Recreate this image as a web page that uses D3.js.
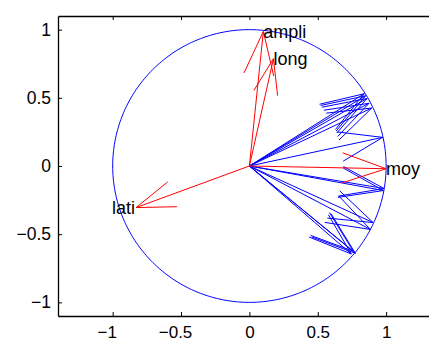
<!DOCTYPE html>
<html>
<head>
<meta charset="utf-8">
<script src="https://cdn.jsdelivr.net/npm/d3@7"></script>
<style>
  body { margin: 0; background: #fff; }
  svg { display: block; }
  text { font-family: "Liberation Sans", Arial, Helvetica, sans-serif; }
</style>
</head>
<body>
<script>
// variable vectors (red) - names and coordinates on the correlation circle
var varNames = ["ampli", "long", "moy", "lati"];
var varX = [0.102, 0.176, 1.0, -0.829];
var varY = [0.987, 0.787, -0.02, -0.305];

// observation vectors (blue)
var obsX = [0.84, 0.85, 0.86, 0.875, 0.895, 0.975, 0.985, 0.98, 0.905, 0.885, 0.775, 0.76, 0.745];
var obsY = [0.53, 0.515, 0.495, 0.46, 0.425, 0.21, -0.165, -0.18, -0.415, -0.465, -0.64, -0.625, -0.645];

// tick values
var xTicks = [-1, -0.5, 0, 0.5, 1];
var yTicks = [-1, -0.5, 0, 0.5, 1];

var width = 429, height = 342;
// note: "top" is a reserved window property, so use other names
var plotLeft = 58, plotTop = 16, plotBottom = 316, plotRight = 440.8;

var x = d3.scaleLinear().domain([-1.4, 1.4]).range([plotLeft, plotRight]);
var y = d3.scaleLinear().domain([-1.1, 1.1]).range([plotBottom, plotTop]);

var svg = d3.select("body").append("svg")
	.attr("width", width)
	.attr("height", height);

// unit circle
var circ = d3.range(0, 361).map(function(a) {
	var t = a * Math.PI / 180;
	return [Math.cos(t), Math.sin(t)];
});
var line = d3.line()
	.x(function(d) { return x(d[0]); })
	.y(function(d) { return y(d[1]); });

svg.append("path")
	.attr("d", line(circ))
	.attr("fill", "none")
	.attr("stroke", "#0000ff")
	.attr("stroke-width", 1);

// arrow path: shaft + head (head is proportional to vector length)
var arrowPath = function(vx, vy)
{
	var back = 0.32, side = 0.11;
	var w1 = [vx - back*vx - side*vy, vy - back*vy + side*vx];
	var w2 = [vx - back*vx + side*vy, vy - back*vy - side*vx];
	return "M" + x(0) + "," + y(0) +
		"L" + x(vx) + "," + y(vy) +
		"M" + x(w1[0]) + "," + y(w1[1]) +
		"L" + x(vx) + "," + y(vy) +
		"L" + x(w2[0]) + "," + y(w2[1]);
};

svg.append("g")
	.selectAll("path")
	.data(obsX)
	.enter().append("path")
	.attr("d", function(d, i) { return arrowPath(obsX[i], obsY[i]); })
	.attr("fill", "none")
	.attr("stroke", "#0000ff")
	.attr("stroke-width", 1);

svg.append("g")
	.selectAll("path")
	.data(varNames)
	.enter().append("path")
	.attr("d", function(d, i) { return arrowPath(varX[i], varY[i]); })
	.attr("fill", "none")
	.attr("stroke", "#ff0000")
	.attr("stroke-width", 1);

svg.append("g")
	.selectAll("text")
	.data(varNames)
	.enter().append("text")
	.text(function(d) { return d; })
	.attr("x", function(d, i) { return varX[i] < 0 ? x(varX[i]) - 1 : x(varX[i]); })
	.attr("y", function(d, i) { return y(varY[i]); })
	.attr("dy", "0.35em")
	.attr("text-anchor", function(d, i) { return varX[i] < 0 ? "end" : "start"; })
	.style("font-size", "18px")
	.style("fill", "#000");

// axes (MATLAB box style, ticks inward)
var xAxis = d3.axisBottom(x).tickValues(xTicks).tickSizeInner(-4).tickSizeOuter(0).tickPadding(10)
	.tickFormat(d3.format("~g"));
var yAxis = d3.axisLeft(y).tickValues(yTicks).tickSizeInner(-4).tickSizeOuter(0).tickPadding(7)
	.tickFormat(d3.format("~g"));

var gx = svg.append("g").attr("transform", "translate(0," + plotBottom + ")").call(xAxis);
var gy = svg.append("g").attr("transform", "translate(" + plotLeft + ",0)").call(yAxis);
var gt = svg.append("g").attr("transform", "translate(0," + plotTop + ")")
	.call(d3.axisTop(x).tickValues(xTicks).tickSizeInner(-4).tickSizeOuter(0).tickFormat(""));

[gx, gy, gt].forEach(function(g) {
	g.selectAll("path.domain").attr("stroke", "#000").attr("stroke-width", 1.3);
	g.selectAll(".tick line").attr("stroke", "#000");
	g.selectAll(".tick text").style("font-size", "17.5px").style("fill", "#000")
		.style("font-family", "Liberation Sans, Arial, Helvetica, sans-serif");
});

// the minus sign hangs to the left of the centred number on the x axis
gx.selectAll(".tick text")
	.style("font-size", "17px")
	.attr("dx", function(d) { return d < 0 ? -6 : 0; });
</script>
</body>
</html>
